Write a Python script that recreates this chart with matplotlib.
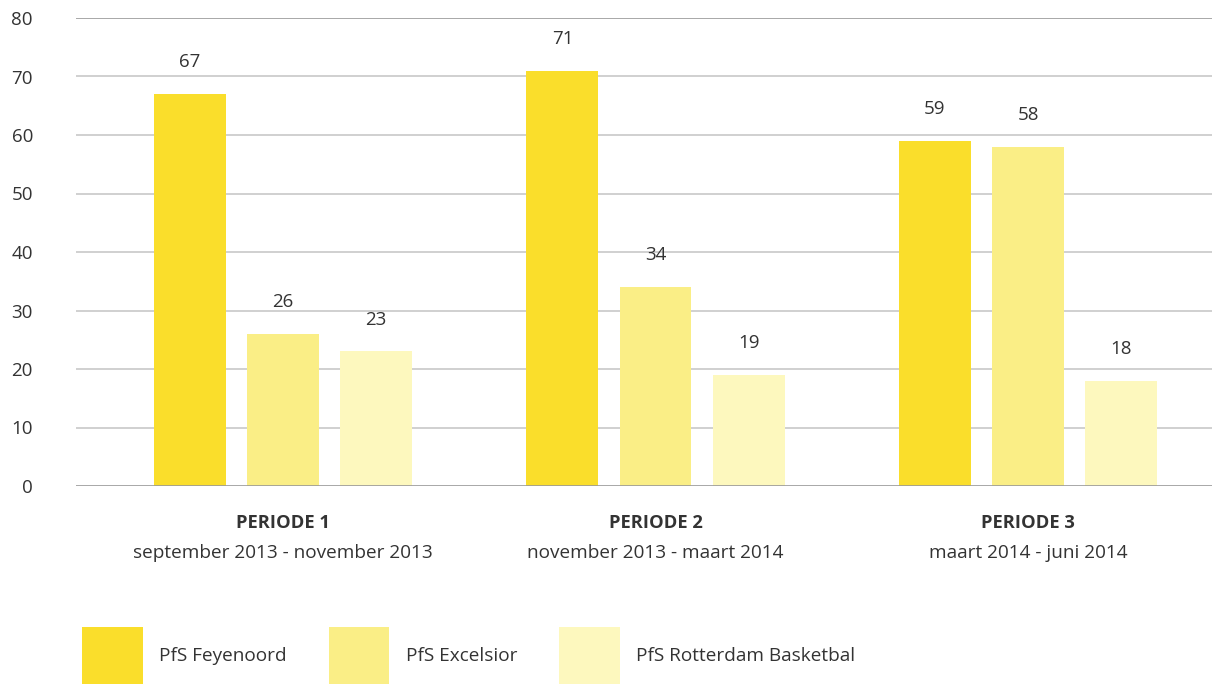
import numpy as np
import matplotlib.pyplot as plt

plt.rcParams['font.family'] = ['Open Sans', 'DejaVu Sans']

periods = ["PERIODE 1", "PERIODE 2", "PERIODE 3"]
ranges = ["september 2013 - november 2013", "november 2013 - maart 2014", "maart 2014 - juni 2014"]
series = ["PfS Feyenoord", "PfS Excelsior", "PfS Rotterdam Basketbal"]
feyenoord = [67, 71, 59]
excelsior = [26, 34, 58]
basketbal = [23, 19, 18]
colors = ["#FADE2B", "#FAEE86", "#FDF8BE"]
text_color = "#333333"

fig = plt.figure(figsize=(12.12, 6.84), dpi=100)
ax = fig.add_axes([76 / 1212, 198 / 684, 1 - 76 / 1212, 468 / 684])

x = np.arange(len(periods))
bar_width = 0.193
step = 0.25
values = [feyenoord, excelsior, basketbal]
for i, (vals, name, col) in enumerate(zip(values, series, colors)):
    pos = x + (i - 1) * step
    ax.bar(pos, vals, bar_width, color=col, label=name, zorder=3)
    for px, v in zip(pos, vals):
        ax.annotate(str(v), (px, v), xytext=(0, 16.5), textcoords="offset points",
                    ha="center", va="bottom", fontsize=13.5, color=text_color)

ax.set_xlim(-0.556, 2.494)
ax.set_ylim(0, 80)
ax.set_yticks(range(0, 81, 10))
ax.tick_params(axis="y", length=0, pad=31, labelsize=13.5, labelcolor=text_color)
ax.set_xticks([])
for s in ax.spines.values():
    s.set_visible(False)

for t in range(10, 80, 10):
    ax.axhline(t, color="#c8c8c8", lw=1.2, zorder=1)
ax.axhline(80, color="#999999", lw=1.2, zorder=1)
ax.axhline(0, color="#999999", lw=1.2, zorder=4)

for xi, p, r in zip(x, periods, ranges):
    ax.annotate(p, (xi, 0), xycoords=("data", "axes fraction"), xytext=(0, -26.5),
                textcoords="offset points", ha="center", va="center",
                fontsize=13.2, fontweight="bold", color=text_color)
    ax.annotate(r, (xi, 0), xycoords=("data", "axes fraction"), xytext=(0, -48.5),
                textcoords="offset points", ha="center", va="center",
                fontsize=13.7, color=text_color)

fig.legend(loc="lower left", bbox_to_anchor=(82 / 1212, 0), ncol=3, frameon=False,
           fontsize=13.7, handlelength=3.2, handleheight=4.2, handletextpad=0.85,
           columnspacing=2.2, borderpad=0, borderaxespad=0, labelcolor=text_color)

fig.savefig("out.png", dpi=100)
